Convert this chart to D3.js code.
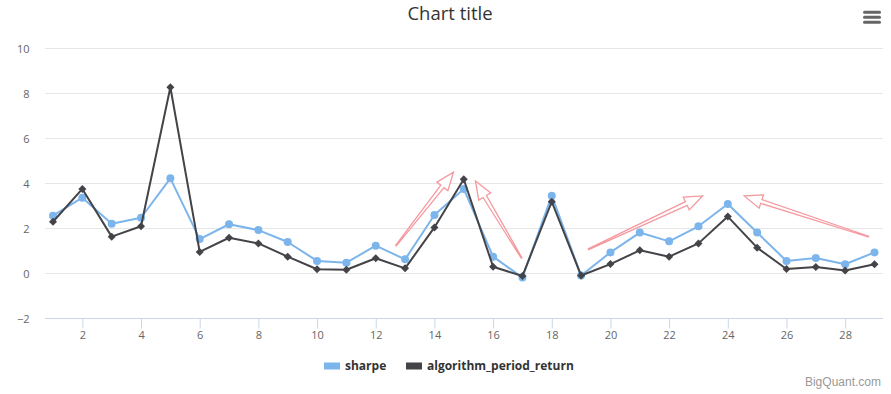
<!DOCTYPE html>
<html>
<head>
<meta charset="utf-8">
<script src="https://cdn.jsdelivr.net/npm/d3@7"></script>
<style>
  html, body { margin: 0; padding: 0; background: #fff; }
  svg { display: block; }
</style>
</head>
<body>
<svg id="chart" width="891" height="394"></svg>
<script>
// ---- data ----
const title = "Chart title";
const xValues = [1,2,3,4,5,6,7,8,9,10,11,12,13,14,15,16,17,18,19,20,21,22,23,24,25,26,27,28,29];
const sharpe = [2.56,3.36,2.2,2.47,4.22,1.52,2.18,1.92,1.39,0.55,0.47,1.23,0.62,2.59,3.75,0.74,-0.19,3.45,-0.1,0.93,1.81,1.42,2.09,3.08,1.81,0.55,0.68,0.4,0.93];
const algorithmPeriodReturn = [2.29,3.75,1.63,2.09,8.27,0.95,1.58,1.33,0.74,0.18,0.16,0.67,0.22,2.04,4.18,0.29,-0.12,3.18,-0.1,0.41,1.02,0.74,1.33,2.52,1.14,0.19,0.28,0.12,0.4];
const seriesNames = ["sharpe", "algorithm_period_return"];
const yTicks = [-2,0,2,4,6,8,10];
const xTicks = [2,4,6,8,10,12,14,16,18,20,22,24,26,28];
// annotation arrows (data units): tail x, tail y, tip x, tip y
const arrowTailX = [12.69, 16.97, 19.25, 28.80];
const arrowTailY = [1.23, 0.68, 1.07, 1.63];
const arrowTipX  = [14.65, 15.40, 23.14, 24.56];
const arrowTipY  = [4.49, 4.10, 3.44, 3.44];
const credits = "BigQuant.com";

// ---- layout ----
const W = 891, H = 394;
const plot = { left: 45, right: 883, top: 48.3, bottom: 318.3 };
const colors = ["#7cb5ec", "#434348"];
const font = "'Open Sans', 'DejaVu Sans', sans-serif";

const svg = d3.select("#chart");
svg.append("rect").attr("width", W).attr("height", H).attr("fill", "#fff");

const x = d3.scaleLinear().domain([0.727, 29.29]).range([plot.left, plot.right]);
const y = d3.scaleLinear().domain([-2, 10]).range([plot.bottom, plot.top]);

// title
svg.append("text").attr("x", 450).attr("y", 19.5).attr("text-anchor", "middle")
  .attr("font-family", font).attr("font-size", 18.5).attr("fill", "#333").text(title);

// menu icon
const menu = svg.append("g").attr("stroke", "#666").attr("stroke-width", 3).attr("stroke-linecap", "round");
[12.3, 17.3, 22.3].forEach(v => menu.append("line").attr("x1", 864.5).attr("x2", 879.5).attr("y1", v).attr("y2", v));

// gridlines
const grid = svg.append("g");
grid.selectAll("line").data(yTicks.filter(t => t !== -2)).join("line")
  .attr("x1", plot.left).attr("x2", plot.right)
  .attr("y1", d => Math.round(y(d)) + 0.5).attr("y2", d => Math.round(y(d)) + 0.5)
  .attr("stroke", "#e6e6e6").attr("stroke-width", 1);

// y axis labels
const yAxis = d3.axisLeft(y).tickValues(yTicks).tickSize(0).tickPadding(0)
  .tickFormat(d => d < 0 ? "\u2212" + Math.abs(d) : String(d));
const yg = svg.append("g").attr("transform", `translate(29.5,0)`).call(yAxis);
yg.select(".domain").remove();
yg.selectAll("text").attr("font-family", font).attr("font-size", 11).attr("fill", "#666").attr("dy", "0.35em");

// x axis
const xAxis = d3.axisBottom(x).tickValues(xTicks).tickSize(10).tickPadding(3).tickSizeOuter(0);
const xg = svg.append("g").attr("transform", `translate(0,${Math.round(plot.bottom) + 0.5})`).call(xAxis);
xg.select(".domain").attr("stroke", "#ccd6eb").attr("d", `M${plot.left},0H${plot.right}`);
xg.selectAll(".tick line").attr("stroke", "#ccd6eb");
xg.selectAll("text").attr("font-family", font).attr("font-size", 11).attr("fill", "#666");

// series
const allSeries = [sharpe, algorithmPeriodReturn];
const line = d3.line().x((d, i) => x(xValues[i])).y(d => y(d));
allSeries.forEach((vals, si) => {
  const g = svg.append("g");
  g.append("path").datum(vals).attr("d", line).attr("fill", "none")
    .attr("stroke", colors[si]).attr("stroke-width", 2).attr("stroke-linejoin", "round").attr("stroke-linecap", "round");
  if (si === 0) {
    g.selectAll("circle").data(vals).join("circle")
      .attr("cx", (d, i) => x(xValues[i])).attr("cy", d => y(d)).attr("r", 4).attr("fill", colors[si]);
  } else {
    g.selectAll("path.m").data(vals).join("path").attr("class", "m")
      .attr("transform", (d, i) => `translate(${x(xValues[i])},${y(d)}) rotate(45)`)
      .attr("d", d3.symbol().type(d3.symbolSquare).size(32)).attr("fill", colors[si]);
  }
});

// arrows
const arrows = svg.append("g");
arrowTailX.forEach((_, i) => {
  const tx = x(arrowTailX[i]), ty = y(arrowTailY[i]);
  const px = x(arrowTipX[i]), py = y(arrowTipY[i]);
  const L = Math.hypot(px - tx, py - ty);
  const ux = (px - tx) / L, uy = (py - ty) / L;
  const nx = -uy, ny = ux;
  const headLen = 18, headHalf = 7, shaftHalf = 2, tailHalf = 0.4;
  const bx = px - ux * headLen, by = py - uy * headLen;
  const pts = [
    [tx + nx * tailHalf, ty + ny * tailHalf],
    [bx + nx * shaftHalf, by + ny * shaftHalf],
    [bx + nx * headHalf, by + ny * headHalf],
    [px, py],
    [bx - nx * headHalf, by - ny * headHalf],
    [bx - nx * shaftHalf, by - ny * shaftHalf],
    [tx - nx * tailHalf, ty - ny * tailHalf]
  ];
  arrows.append("path").attr("d", "M" + pts.map(p => p.join(",")).join("L") + "Z")
    .attr("fill", "#fff").attr("stroke", "#f5999f").attr("stroke-width", 1.3).attr("stroke-linejoin", "miter");
});

// legend
const legend = svg.append("g");
const legendX = [324, 406];
seriesNames.forEach((name, i) => {
  legend.append("rect").attr("x", legendX[i]).attr("y", 362.5).attr("width", 16).attr("height", 7)
    .attr("fill", colors[i]);
  legend.append("text").attr("x", legendX[i] + 21).attr("y", 369.5)
    .attr("font-family", font).attr("font-size", 12).attr("font-weight", "bold").attr("fill", "#333").text(name);
});

// credits
svg.append("text").attr("x", 881).attr("y", 385.5).attr("text-anchor", "end")
  .attr("font-family", "'Liberation Sans', Arial, sans-serif").attr("font-size", 12).attr("fill", "#999").text(credits);
</script>
</body>
</html>
